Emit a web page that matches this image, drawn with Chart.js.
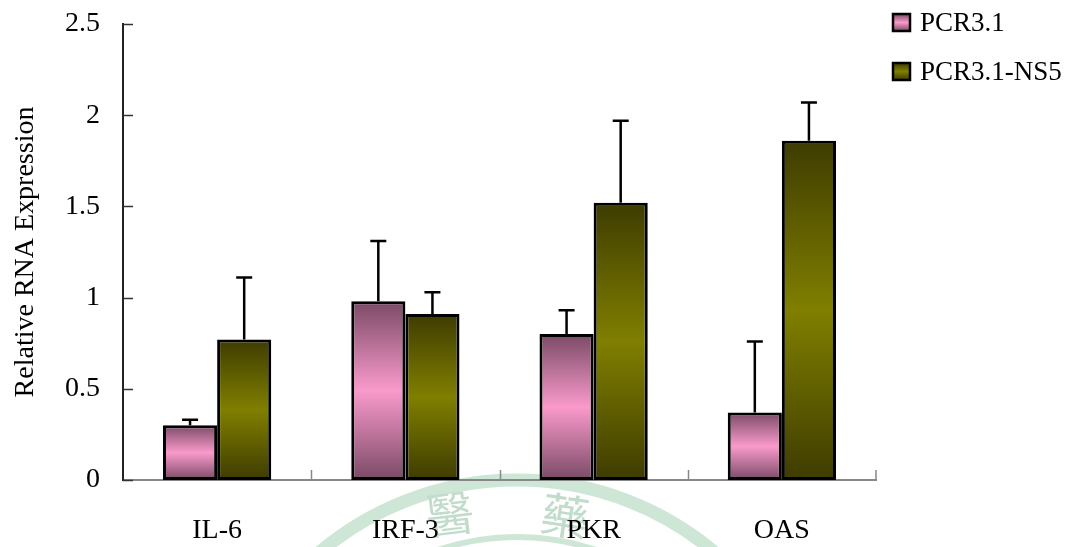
<!DOCTYPE html>
<html>
<head>
<meta charset="utf-8">
<script src="https://cdn.jsdelivr.net/npm/chart.js@4.4.0/dist/chart.umd.min.js"></script>
<style>
  html, body { margin: 0; padding: 0; background: #fff; }
  #wrap { width: 1068px; height: 547px; position: relative; }
</style>
</head>
<body>
<div id="wrap"><canvas id="chart"></canvas></div>
<script>
const genes = ['IL-6', 'IRF-3', 'PKR', 'OAS'];
const pcrValues = [0.30, 0.98, 0.80, 0.37];
const pcrErrors = [0.03, 0.33, 0.13, 0.39];
const ns5Values = [0.77, 0.91, 1.52, 1.86];
const ns5Errors = [0.34, 0.12, 0.45, 0.21];
const yTicks = [0, 0.5, 1, 1.5, 2, 2.5];

const FONT = "'Liberation Serif', 'Times New Roman', serif";
const PINK = { dark: '#7a4a66', light: '#f99acb' };
const OLIVE = { dark: '#3e3c00', light: '#807f00' };

function barGradient(ctx, pal) {
  const chart = ctx.chart;
  if (!chart.chartArea || ctx.type !== 'data') return pal.light;
  const y = chart.scales.y;
  const top = y.getPixelForValue(ctx.raw);
  const bottom = y.getPixelForValue(0);
  const g = chart.ctx.createLinearGradient(0, top, 0, bottom);
  g.addColorStop(0, pal.dark);
  g.addColorStop(0.5, pal.light);
  g.addColorStop(1, pal.dark);
  return g;
}

// faint seal watermark behind the chart
const watermark = {
  id: 'watermark',
  beforeDraw(chart) {
    const c = chart.ctx;
    c.save();
    c.strokeStyle = '#cde6d5';
    c.lineWidth = 13;
    c.beginPath();
    c.arc(517, 786, 306, 0, Math.PI * 2);
    c.stroke();
    c.lineWidth = 6;
    c.beginPath();
    c.arc(517, 786, 249, 0, Math.PI * 2);
    c.stroke();
    c.fillStyle = '#c2dccb';
    c.font = "48px 'Noto Sans CJK TC'";
    c.textAlign = 'center';
    c.textBaseline = 'middle';
    c.save();
    c.translate(450, 514);
    c.rotate(-0.12);
    c.fillText('醫', 0, 0);
    c.restore();
    c.translate(565, 516);
    c.rotate(0.15);
    c.fillText('藥', 0, 0);
    c.restore();
  }
};

// inner tick marks on both axes
const innerTicks = {
  id: 'innerTicks',
  afterDraw(chart) {
    const c = chart.ctx, x = chart.scales.x, y = chart.scales.y;
    const area = chart.chartArea;
    c.save();
    c.strokeStyle = '#333';
    c.lineWidth = 1.5;
    yTicks.forEach(v => {
      const py = Math.round(y.getPixelForValue(v)) + 0.5;
      c.beginPath();
      c.moveTo(area.left, py);
      c.lineTo(area.left + 10, py);
      c.stroke();
    });
    c.strokeStyle = '#888';
    for (let i = 1; i <= genes.length; i++) {
      const px = Math.round((x.getPixelForValue(i - 1) + x.getPixelForValue(i)) / 2) + 0.5;
      const edge = i === genes.length ? area.right : px;
      c.beginPath();
      c.moveTo(edge, area.bottom);
      c.lineTo(edge, area.bottom - 10);
      c.stroke();
    }
    c.restore();
  }
};

// upper error bars
const errorBars = {
  id: 'errorBars',
  afterDatasetsDraw(chart) {
    const c = chart.ctx, y = chart.scales.y;
    c.save();
    c.strokeStyle = '#000';
    c.lineWidth = 2.5;
    chart.data.datasets.forEach((ds, di) => {
      const meta = chart.getDatasetMeta(di);
      meta.data.forEach((bar, i) => {
        const top = y.getPixelForValue(ds.data[i] + ds.errors[i]);
        c.beginPath();
        c.moveTo(bar.x, bar.y);
        c.lineTo(bar.x, top);
        c.moveTo(bar.x - 8, top);
        c.lineTo(bar.x + 8, top);
        c.stroke();
      });
    });
    c.restore();
  }
};

// legend on the upper right
const sideLegend = {
  id: 'sideLegend',
  afterDraw(chart) {
    const c = chart.ctx;
    c.save();
    c.font = '27px ' + FONT;
    c.textBaseline = 'middle';
    chart.data.datasets.forEach((ds, i) => {
      const bx = 893, by = 14 + i * 49, s = 17;
      const g = c.createLinearGradient(0, by, 0, by + s);
      g.addColorStop(0, ds.palette.dark);
      g.addColorStop(0.5, ds.palette.light);
      g.addColorStop(1, ds.palette.dark);
      c.fillStyle = g;
      c.fillRect(bx, by, s, s);
      c.strokeStyle = '#000';
      c.lineWidth = 2.5;
      c.strokeRect(bx, by, s, s);
      c.fillStyle = '#000';
      c.fillText(ds.label, 920, by + s / 2 + 1);
    });
    c.restore();
  }
};

new Chart(document.getElementById('chart'), {
  type: 'bar',
  data: {
    labels: genes,
    datasets: [
      {
        label: 'PCR3.1',
        data: pcrValues,
        errors: pcrErrors,
        palette: PINK,
        backgroundColor: ctx => barGradient(ctx, PINK),
        borderColor: '#000',
        borderWidth: 3,
        borderSkipped: false
      },
      {
        label: 'PCR3.1-NS5',
        data: ns5Values,
        errors: ns5Errors,
        palette: OLIVE,
        backgroundColor: ctx => barGradient(ctx, OLIVE),
        borderColor: '#000',
        borderWidth: 3,
        borderSkipped: false
      }
    ]
  },
  options: {
    responsive: true,
    maintainAspectRatio: false,
    devicePixelRatio: 1,
    animation: false,
    categoryPercentage: 0.575,
    barPercentage: 1,
    layout: { padding: { top: 24, right: 192, left: 0, bottom: 0 } },
    plugins: {
      legend: { display: false },
      tooltip: { enabled: false }
    },
    scales: {
      x: {
        grid: { display: false, drawTicks: false },
        border: { display: true, color: '#888', width: 2 },
        ticks: { color: '#000', font: { family: FONT, size: 28 }, padding: 34 },
        afterFit: s => { s.height = 67; s.paddingLeft = 0; s.paddingRight = 0; }
      },
      y: {
        min: 0,
        max: 2.5,
        afterBuildTicks: s => { s.ticks = yTicks.map(v => ({ value: v })); },
        grid: { display: false, drawTicks: false },
        border: { display: true, color: '#222', width: 2 },
        ticks: {
          color: '#000',
          font: { family: FONT, size: 28 },
          padding: 23,
          callback: v => String(v)
        },
        title: {
          display: true,
          text: 'Relative RNA Expression',
          color: '#000',
          font: { family: FONT, size: 28 },
          padding: { top: 9 }
        },
        afterFit: s => { s.width = 123; s.paddingTop = 0; s.paddingBottom = 0; }
      }
    }
  },
  plugins: [watermark, errorBars, innerTicks, sideLegend]
});
</script>
</body>
</html>
